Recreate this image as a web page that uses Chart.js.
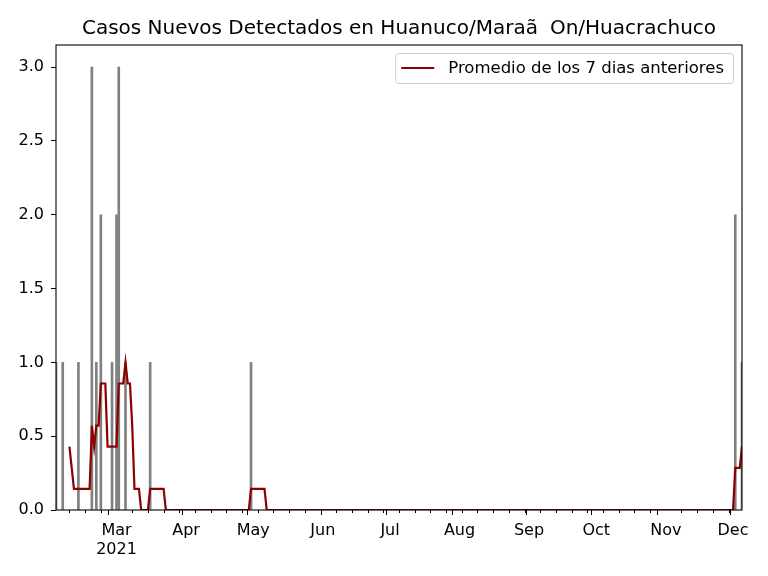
<!DOCTYPE html>
<html lang="es">
<head>
<meta charset="UTF-8">
<title>Casos Nuevos Detectados</title>
<script src="https://cdn.jsdelivr.net/npm/chart.js"></script>
<style>
  body { margin: 0; background: #fff; }
</style>
</head>
<body>
<canvas id="casos" width="768" height="576"></canvas>
<script>
const titulo = 'Casos Nuevos Detectados en Huanuco/Maraã\u0091On/Huacrachuco';
const etiquetaPromedio = 'Promedio de los 7 dias anteriores';

// casos diarios (solo los dias con casos, el resto es 0)
const fechasCasos = ['2021-02-02', '2021-02-05', '2021-02-12', '2021-02-18', '2021-02-20',
    '2021-02-22', '2021-02-27', '2021-03-01', '2021-03-02', '2021-03-05', '2021-03-16',
    '2021-04-30', '2021-12-02', '2021-12-05'];
const casos = [1, 1, 1, 3, 1, 2, 1, 2, 3, 1, 1, 1, 2, 1];

// promedio de los 7 dias, vertices de la linea
const fechasPromedio = ['2021-02-08', '2021-02-10', '2021-02-17', '2021-02-18', '2021-02-19',
    '2021-02-20', '2021-02-21', '2021-02-22', '2021-02-24', '2021-02-25', '2021-03-01',
    '2021-03-02', '2021-03-04', '2021-03-05', '2021-03-06', '2021-03-07', '2021-03-08',
    '2021-03-09', '2021-03-11', '2021-03-12', '2021-03-15', '2021-03-16', '2021-03-22',
    '2021-03-23', '2021-04-29', '2021-04-30', '2021-05-06', '2021-05-07', '2021-12-01',
    '2021-12-02', '2021-12-04', '2021-12-05'];
const promedio = [0.429, 0.143, 0.143, 0.571, 0.429,
    0.571, 0.571, 0.857, 0.857, 0.429, 0.429,
    0.857, 0.857, 1.0, 0.857, 0.857, 0.571,
    0.143, 0.143, 0, 0, 0.143, 0.143,
    0, 0, 0.143, 0.143, 0, 0,
    0.286, 0.286, 0.429];

const inicio = '2021-02-02';
const fin = '2021-12-05';
const meses = ['Jan', 'Feb', 'Mar', 'Apr', 'May', 'Jun', 'Jul', 'Aug', 'Sep', 'Oct', 'Nov', 'Dec'];
const yTicks = [0, 0.5, 1, 1.5, 2, 2.5, 3];

const fuente = "'DejaVu Sans', sans-serif";

function dia(s) {
    const [y, m, d] = s.split('-').map(Number);
    return (Date.UTC(y, m - 1, d) - Date.UTC(2021, 0, 1)) / 86400000;
}

// ticks: principio de mes (mayores) y lunes (menores)
const xMin = dia(inicio), xMax = dia(fin);
const inicioMes = {};
for (let m = 0; m < 12; m++) {
    const v = dia(`2021-${String(m + 1).padStart(2, '0')}-01`);
    if (v >= xMin && v <= xMax) inicioMes[v] = m;
}
const xTicks = [];
for (let v = dia('2021-02-08'); v <= xMax; v += 7) {
    if (!(v in inicioMes)) xTicks.push({ value: v, major: false });
}
Object.keys(inicioMes).forEach(v => xTicks.push({ value: Number(v), major: true }));
xTicks.sort((a, b) => a.value - b.value);
const primerMes = Math.min(...Object.keys(inicioMes).map(Number));

const marco = {
    id: 'marco',
    afterDraw(chart) {
        const { ctx, chartArea: a } = chart;
        const x = chart.scales.x;
        ctx.save();
        // ticks menores
        ctx.strokeStyle = '#000';
        ctx.lineWidth = 1;
        ctx.beginPath();
        xTicks.filter(t => !t.major).forEach(t => {
            const px = Math.round(x.getPixelForValue(t.value)) + 0.5;
            ctx.moveTo(px, a.bottom);
            ctx.lineTo(px, a.bottom + 3);
        });
        ctx.stroke();
        // marco
        ctx.lineWidth = 1.1;
        ctx.strokeRect(a.left, a.top, a.right - a.left, a.bottom - a.top);
        // titulo
        ctx.fillStyle = '#000';
        ctx.font = `20px ${fuente}`;
        ctx.textAlign = 'center';
        ctx.textBaseline = 'middle';
        ctx.fillText(titulo, (a.left + a.right) / 2, 29);
        // leyenda
        ctx.font = `16.5px ${fuente}`;
        const tw = ctx.measureText(etiquetaPromedio).width;
        const derecha = a.right - 9;
        const textoX = derecha - 9 - tw;
        const lineaX = textoX - 14 - 33;
        const izq = lineaX - 6;
        const arriba = a.top + 8, alto = 30;
        ctx.beginPath();
        ctx.roundRect(izq + 0.5, arriba + 0.5, derecha - izq, alto, 3);
        ctx.fillStyle = 'rgba(255,255,255,0.8)';
        ctx.fill();
        ctx.strokeStyle = '#cccccc';
        ctx.lineWidth = 1;
        ctx.stroke();
        ctx.strokeStyle = '#8b0000';
        ctx.lineWidth = 2.2;
        ctx.beginPath();
        ctx.moveTo(lineaX, arriba + alto / 2);
        ctx.lineTo(lineaX + 33, arriba + alto / 2);
        ctx.stroke();
        ctx.fillStyle = '#000';
        ctx.textAlign = 'left';
        ctx.fillText(etiquetaPromedio, textoX, arriba + alto / 2 + 1);
        ctx.restore();
    }
};

new Chart(document.getElementById('casos'), {
    type: 'bar',
    data: {
        datasets: [{
            type: 'line',
            label: etiquetaPromedio,
            data: fechasPromedio.map((f, i) => ({ x: dia(f), y: promedio[i] })),
            borderColor: '#8b0000',
            borderWidth: 2.2,
            pointRadius: 0,
            tension: 0,
            fill: false,
            order: 0
        }, {
            type: 'bar',
            label: 'Casos',
            data: fechasCasos.map((f, i) => ({ x: dia(f), y: casos[i] })),
            backgroundColor: '#808080',
            barThickness: 2,
            order: 1
        }]
    },
    options: {
        responsive: false,
        animation: false,
        layout: { padding: { top: 45, right: 26, bottom: 0, left: 0 } },
        plugins: {
            legend: { display: false },
            title: { display: false },
            tooltip: { enabled: false }
        },
        scales: {
            x: {
                type: 'linear',
                min: xMin,
                max: xMax,
                offset: false,
                afterBuildTicks: s => { s.ticks = xTicks.map(t => ({ ...t })); },
                afterFit: s => { s.height = 66; },
                border: { display: false },
                grid: {
                    drawOnChartArea: false,
                    tickLength: 5,
                    tickColor: c => (c.tick && c.tick.major ? '#000' : 'rgba(0,0,0,0)')
                },
                ticks: {
                    autoSkip: false,
                    maxRotation: 0,
                    padding: 6,
                    color: '#000',
                    font: { family: fuente, size: 16 },
                    callback: v => {
                        if (!(v in inicioMes)) return '';
                        const nombre = meses[inicioMes[v]];
                        return v === primerMes ? [nombre, '2021'] : nombre;
                    }
                }
            },
            y: {
                min: 0,
                max: 3.15,
                afterBuildTicks: s => { s.ticks = yTicks.map(v => ({ value: v })); },
                afterFit: s => { s.width = 56; },
                border: { display: false },
                grid: { drawOnChartArea: false, tickLength: 5, tickColor: '#000' },
                ticks: {
                    padding: 7,
                    color: '#000',
                    font: { family: fuente, size: 16 },
                    callback: v => v.toFixed(1)
                }
            }
        }
    },
    plugins: [marco]
});
</script>
</body>
</html>
